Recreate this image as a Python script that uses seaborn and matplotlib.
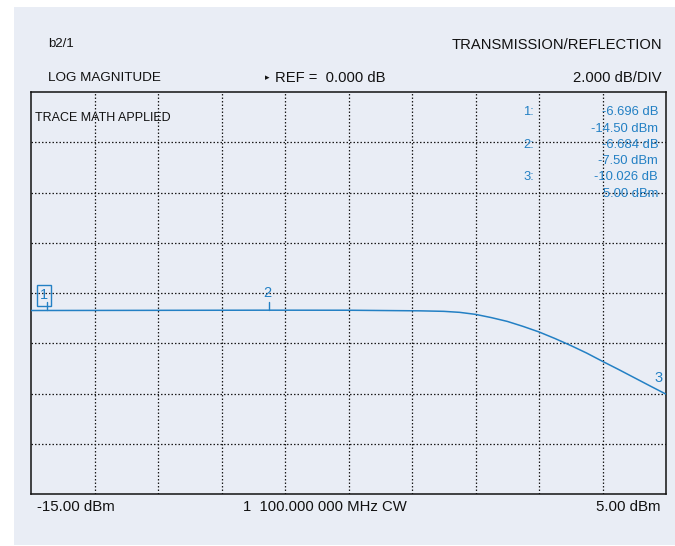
import matplotlib
matplotlib.use("Agg")
import matplotlib.pyplot as plt
import seaborn as sns
import pandas as pd
from matplotlib.patches import Rectangle

# Power sweep (input power, dBm) and measured transmission gain (dB)
pin_dbm = [-15.0, -14.5, -12.0, -10.0, -7.5, -5.0, -2.75, -2.0, -1.5, -1.0,
           -0.5, 0.0, 0.5, 1.0, 1.5, 2.0, 2.5, 3.0, 3.5, 4.0, 4.5, 5.0]
gain_db = [-6.697, -6.696, -6.692, -6.688, -6.684, -6.686, -6.71, -6.73, -6.77, -6.85,
           -6.98, -7.13, -7.33, -7.55, -7.81, -8.09, -8.39, -8.72, -9.04, -9.37, -9.70, -10.026]

# Marker readouts
marker_ids = ["1", "2", "3"]
marker_pin = [-14.50, -7.50, 5.00]
marker_gain = [-6.696, -6.684, -10.026]

x_start, x_stop = -15.0, 5.0
y_bottom, y_top = -14.0, 2.0
div_x, div_y = 2.0, 2.0

TRACE = "#2380c4"
PANEL = "#e9edf5"
INK = "#111111"

sns.set_theme(style="white")
plt.rcParams["font.family"] = ["Liberation Sans", "DejaVu Sans"]

W, H = 675, 546
fig = plt.figure(figsize=(W / 100, H / 100), dpi=100, facecolor="white")


def fx(px):
    return px / W


def fy(py):
    return 1 - py / H


# instrument screen panel
fig.patches.append(Rectangle((fx(14), fy(545)), fx(661), 538 / H,
                             transform=fig.transFigure, facecolor=PANEL,
                             edgecolor="none", zorder=-5))

ax = fig.add_axes([fx(31), fy(494), fx(666) - fx(31), (494 - 92) / H])
ax.set_zorder(2)
ax.set_facecolor(PANEL)

df = pd.DataFrame({"pin": pin_dbm, "gain": gain_db})
sns.lineplot(data=df, x="pin", y="gain", ax=ax, color=TRACE, linewidth=1.1,
             estimator=None, sort=True, zorder=3)

ax.set_xlim(x_start, x_stop)
ax.set_ylim(y_bottom, y_top)
xt = [x_start + div_x * k for k in range(1, 10)]
yt = [y_bottom + div_y * k for k in range(1, 8)]
ax.set_xticks(xt)
ax.set_yticks(yt)
ax.tick_params(length=0, labelbottom=False, labelleft=False)
ax.set_xlabel("")
ax.set_ylabel("")
ax.grid(True, color="#1a1a1a", linestyle=(0, (1.2, 1.6)), linewidth=0.9, zorder=1)
for s in ax.spines.values():
    s.set_visible(True)
    s.set_color("#111111")
    s.set_linewidth(1.1)

# markers on the trace
for mid, mx, mg in zip(marker_ids, marker_pin, marker_gain):
    if mid == "3":
        ax.annotate(mid, (mx, mg), xytext=(-7, 16), textcoords="offset pixels",
                    ha="center", va="center", fontsize=10.5, color=TRACE)
        continue
    ax.plot([mx, mx], [mg, mg + 0.33], color=TRACE, linewidth=1.0, zorder=4)
    if mid == "1":
        ax.annotate(mid, (mx, mg), xytext=(-3, 15), textcoords="offset pixels",
                    ha="center", va="center", fontsize=10.5, color=TRACE,
                    bbox=dict(boxstyle="square,pad=0.22", facecolor="none",
                              edgecolor=TRACE, linewidth=1.0))
    else:
        ax.annotate(mid, (mx, mg), xytext=(-2, 17), textcoords="offset pixels",
                    ha="center", va="center", fontsize=10.5, color=TRACE)

# header texts
fig.text(fx(48), fy(44), "b2/1", fontsize=9.5, va="center", ha="left", color=INK)
fig.text(fx(662), fy(45), "TRANSMISSION/REFLECTION", fontsize=10.6, va="center",
         ha="right", color=INK)
fig.text(fx(48), fy(78), "LOG MAGNITUDE", fontsize=9.7, va="center", ha="left",
         color=INK)
fig.text(fx(265), fy(78), "\u25b8", fontsize=6.5, va="center", ha="left",
         color=INK, family=["DejaVu Sans"])
fig.text(fx(275), fy(78), "REF =  0.000 dB", fontsize=10.6, va="center", ha="left",
         color=INK)
fig.text(fx(662), fy(78), "2.000 dB/DIV", fontsize=10.6, va="center", ha="right",
         color=INK)
fig.text(fx(35), fy(118), "TRACE MATH APPLIED", fontsize=9, va="center", ha="left",
         color=INK)

# marker readout block
row_y = [112, 128.5, 145, 161, 177, 193.5]
for i, (mid, mx, mg) in enumerate(zip(marker_ids, marker_pin, marker_gain)):
    y1, y2 = row_y[2 * i], row_y[2 * i + 1]
    fig.text(fx(534), fy(y1), f"{mid}:", fontsize=9.4, va="center", ha="right",
             color=TRACE, zorder=5)
    fig.text(fx(658), fy(y1), f"{mg:.3f} dB", fontsize=9.4, va="center", ha="right",
             color=TRACE, zorder=5)
    fig.text(fx(658), fy(y2), f"{mx:.2f} dBm", fontsize=9.4, va="center", ha="right",
             color=TRACE, zorder=5)

# footer texts
fig.text(fx(37), fy(507), f"{x_start:.2f} dBm", fontsize=10.8, va="center", ha="left",
         color=INK)
fig.text(fx(243), fy(507), "1  100.000 000 MHz CW", fontsize=10.7, va="center",
         ha="left", color=INK)
fig.text(fx(661), fy(507), f"{x_stop:.2f} dBm", fontsize=10.8, va="center", ha="right",
         color=INK)

fig.savefig("out.png", dpi=100, facecolor="white")
